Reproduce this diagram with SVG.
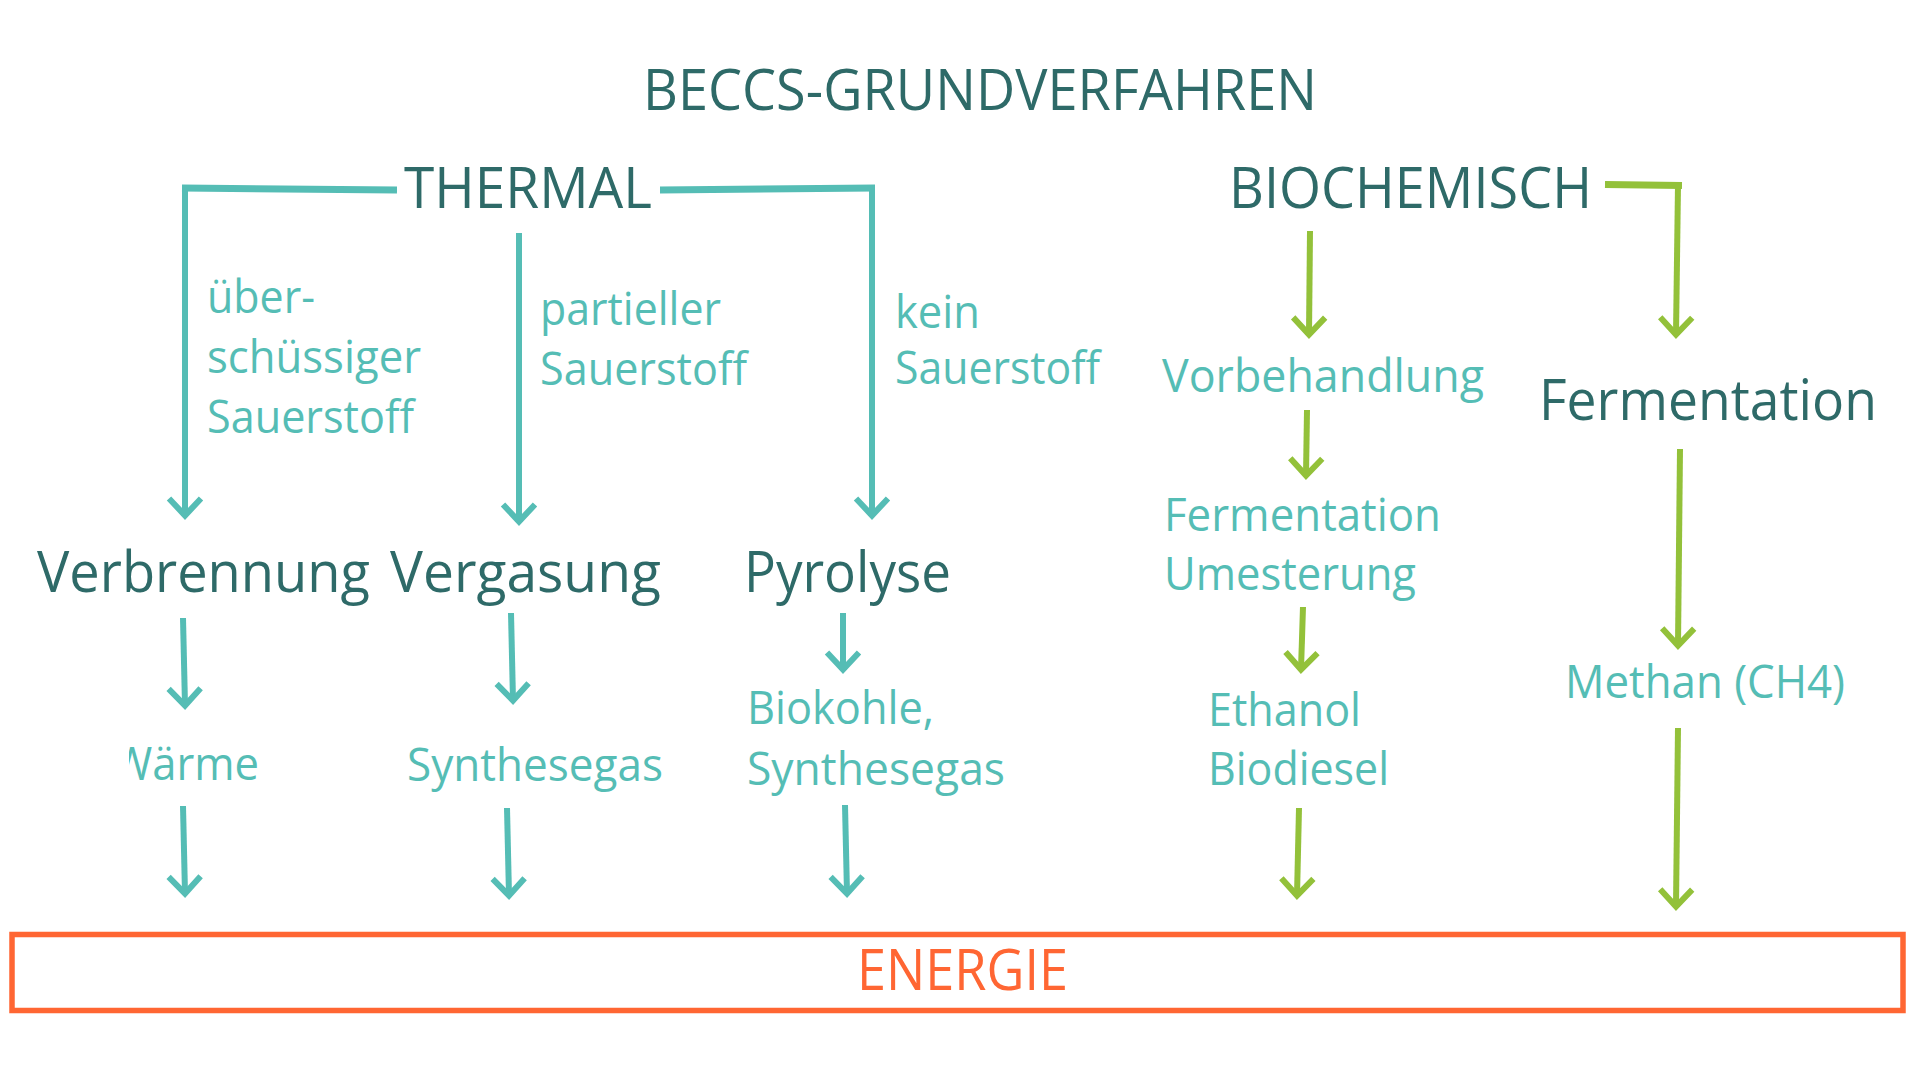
<svg xmlns="http://www.w3.org/2000/svg" width="1920" height="1080" viewBox="0 0 1920 1080">
<style>
text{font-family:"Open Sans","Noto Sans","Liberation Sans",sans-serif;}
.dark{fill:#2e6a68;font-size:57px;}
.teal{fill:#55bdb5;font-size:46px;}
.orange{fill:#ff6633;font-size:57px;}
.lt{fill:none;stroke:#55bdb5;stroke-width:6;marker-end:url(#ah-t);}
.lg{fill:none;stroke:#93c13a;stroke-width:6;marker-end:url(#ah-g);}
.ht{fill:none;stroke:#55bdb5;stroke-width:7;}
.hg{fill:none;stroke:#93c13a;stroke-width:7;}
</style>
<defs>
<marker id="ah-t" markerUnits="userSpaceOnUse" orient="auto" markerWidth="50" markerHeight="50" viewBox="-25 -25 50 50" refX="0" refY="0" overflow="visible">
<path d="M-17,-16 L0,0 L-17,16" fill="none" stroke="#55bdb5" stroke-width="6" stroke-linejoin="miter" stroke-miterlimit="10"/>
</marker>
<marker id="ah-g" markerUnits="userSpaceOnUse" orient="auto" markerWidth="50" markerHeight="50" viewBox="-25 -25 50 50" refX="0" refY="0" overflow="visible">
<path d="M-17,-16 L0,0 L-17,16" fill="none" stroke="#93c13a" stroke-width="6" stroke-linejoin="miter" stroke-miterlimit="10"/>
</marker>
<clipPath id="clipW"><rect x="129" y="730" width="200" height="80"/></clipPath>
</defs>
<rect width="1920" height="1080" fill="#ffffff"/>

<g id="title"><text class="dark" x="643" y="110" textLength="674" lengthAdjust="spacingAndGlyphs">BECCS-GRUNDVERFAHREN</text></g>

<g id="connectors">
<path class="ht" d="M397,190 L182,188"/>
<path class="lt" d="M185,188 L185,515.5"/>
<path class="lt" d="M519,233 L519,521.5"/>
<path class="ht" d="M660,190 L875,188"/>
<path class="lt" d="M872,188 L872,515.5"/>
<path class="lt" d="M183,618 L185,705.5"/>
<path class="lt" d="M511,613 L513,700.5"/>
<path class="lt" d="M843,613 L843,669.5"/>
<path class="lt" d="M183,806 L185,893.5"/>
<path class="lt" d="M507,808 L509,895.5"/>
<path class="lt" d="M845,805 L847,893.5"/>
<path class="hg" d="M1605,184.5 L1682,185.5"/>
<path class="lg" d="M1678,185 L1676,334.5"/>
<path class="lg" d="M1310,231 L1309,334.5"/>
<path class="lg" d="M1307,410 L1306,475.5"/>
<path class="lg" d="M1303,607 L1301,669.5"/>
<path class="lg" d="M1299,808 L1297,895.5"/>
<path class="lg" d="M1680,449 L1678,645.5"/>
<path class="lg" d="M1678,728 L1676,906.5"/>
</g>

<g id="thermal"><text class="dark" x="404" y="208" textLength="248" lengthAdjust="spacingAndGlyphs">THERMAL</text></g>
<g id="biochemisch"><text class="dark" x="1229" y="208" textLength="363" lengthAdjust="spacingAndGlyphs">BIOCHEMISCH</text></g>

<g id="label-ueberschuessig">
<text class="teal" x="207" y="313" textLength="108" lengthAdjust="spacingAndGlyphs">über-</text>
<text class="teal" x="207" y="373" textLength="214" lengthAdjust="spacingAndGlyphs">schüssiger</text>
<text class="teal" x="207" y="433" textLength="207" lengthAdjust="spacingAndGlyphs">Sauerstoff</text>
</g>
<g id="label-partiell">
<text class="teal" x="540" y="325" textLength="181" lengthAdjust="spacingAndGlyphs">partieller</text>
<text class="teal" x="540" y="385" textLength="207" lengthAdjust="spacingAndGlyphs">Sauerstoff</text>
</g>
<g id="label-kein">
<text class="teal" x="895" y="328" textLength="85" lengthAdjust="spacingAndGlyphs">kein</text>
<text class="teal" x="895" y="384" textLength="205" lengthAdjust="spacingAndGlyphs">Sauerstoff</text>
</g>

<g id="verbrennung"><text class="dark" x="37" y="592" textLength="333" lengthAdjust="spacingAndGlyphs">Verbrennung</text></g>
<g id="vergasung"><text class="dark" x="390" y="592" textLength="271" lengthAdjust="spacingAndGlyphs">Vergasung</text></g>
<g id="pyrolyse"><text class="dark" x="744" y="592" textLength="207" lengthAdjust="spacingAndGlyphs">Pyrolyse</text></g>

<g id="waerme"><text class="teal" x="112" y="780" textLength="147" lengthAdjust="spacingAndGlyphs" clip-path="url(#clipW)">Wärme</text></g>
<g id="synthesegas"><text class="teal" x="407" y="781" textLength="256" lengthAdjust="spacingAndGlyphs">Synthesegas</text></g>
<g id="biokohle">
<text class="teal" x="747" y="724" textLength="187" lengthAdjust="spacingAndGlyphs">Biokohle,</text>
<text class="teal" x="747" y="785" textLength="258" lengthAdjust="spacingAndGlyphs">Synthesegas</text>
</g>

<g id="vorbehandlung"><text class="teal" x="1162" y="392" textLength="322" lengthAdjust="spacingAndGlyphs">Vorbehandlung</text></g>
<g id="fermentation-umesterung">
<text class="teal" x="1164" y="531" textLength="277" lengthAdjust="spacingAndGlyphs">Fermentation</text>
<text class="teal" x="1164" y="590" textLength="252" lengthAdjust="spacingAndGlyphs">Umesterung</text>
</g>
<g id="ethanol-biodiesel">
<text class="teal" x="1208" y="726" textLength="153" lengthAdjust="spacingAndGlyphs">Ethanol</text>
<text class="teal" x="1208" y="785" textLength="181" lengthAdjust="spacingAndGlyphs">Biodiesel</text>
</g>
<g id="fermentation"><text class="dark" x="1539" y="420" textLength="338" lengthAdjust="spacingAndGlyphs">Fermentation</text></g>
<g id="methan"><text class="teal" x="1565" y="698" textLength="280" lengthAdjust="spacingAndGlyphs">Methan (CH4)</text></g>

<g id="energie">
<rect x="12" y="934.5" width="1891" height="76" fill="none" stroke="#ff6633" stroke-width="5.5"/>
<text class="orange" x="857" y="990" textLength="211" lengthAdjust="spacingAndGlyphs">ENERGIE</text>
</g>
</svg>
